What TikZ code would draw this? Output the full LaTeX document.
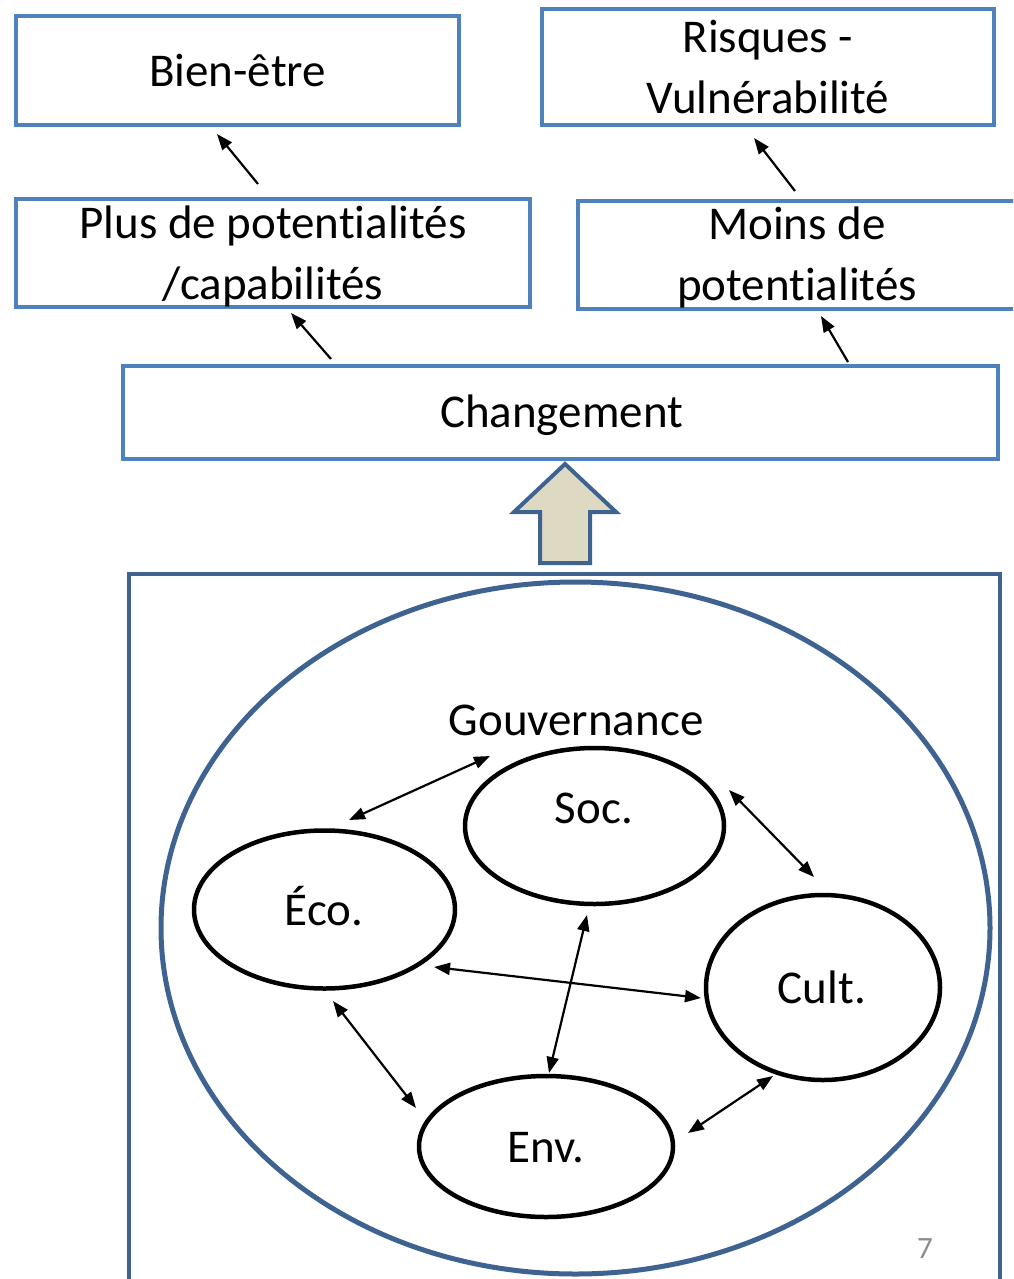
\documentclass[tikz,border=0pt]{standalone}
\usepackage{fontspec}
\setmainfont{Carlito}[Ligatures=NoCommon]
\usetikzlibrary{arrows.meta,shapes.geometric}
\definecolor{boxblue}{HTML}{4F81BD}
\definecolor{darkblue}{HTML}{3F6391}
\definecolor{khaki}{HTML}{DDD9C3}
\definecolor{pagegray}{HTML}{8C8C8C}
\begin{document}
\begin{tikzpicture}[x=1pt,y=-1pt,
  lbl/.style={font=\fontsize{47}{61}\selectfont, align=center, inner sep=0pt},
  box/.style={draw=boxblue, line width=4.5pt, rectangle, inner sep=0pt, font=\fontsize{47}{61}\selectfont, align=center},
  oval/.style={draw=black, line width=4.5pt, ellipse, inner sep=0pt},
  arr/.style={line width=2.2pt, -{Triangle[length=16pt,width=12pt]}},
  darr/.style={line width=2.2pt, {Triangle[length=16pt,width=12pt]}-{Triangle[length=16pt,width=12pt]}},
]
\clip (0,0) rectangle (1013,1279);
\fill[white] (0,0) rectangle (1013,1279);

% top boxes
\node[box, minimum width=443pt, minimum height=109pt] (bien) at (237.5,70.5) {Bien-être};
\node[box, minimum width=452pt, minimum height=116pt] (risq) at (768,67) {Risques -\\Vulnérabilité};
\node[box, minimum width=514pt, minimum height=108pt] (plus) at (273,253) {};
\node[lbl] (plust) at (273,256) {Plus de potentialités\\/capabilités};
\node[box, minimum width=438pt, minimum height=108pt] (moins) at (797,255) {};
\node[lbl] (moinst) at (797,257.5) {Moins de\\potentialités};
\node[box, minimum width=875pt, minimum height=93pt] (chg) at (560.5,412.5) {};
\node[lbl, anchor=base] (chgt) at (561.5,427) {Changement};

% arrows between boxes
\coordinate (p1) at (258,184); \coordinate (b1) at (217,134);
\coordinate (m1) at (795,191); \coordinate (r1) at (754,138);
\coordinate (c1) at (331,359); \coordinate (p2) at (291,313);
\coordinate (c2) at (848,362); \coordinate (m2) at (821,316);
\draw[arr] (p1) -- (b1);
\draw[arr] (m1) -- (r1);
\draw[arr] (c1) -- (p2);
\draw[arr] (c2) -- (m2);

% frame and big ellipse
\node[draw=darkblue, line width=4.5pt, rectangle, inner sep=0pt, minimum width=871pt, minimum height=740pt] (frame) at (564.5,944) {};
\node[draw=darkblue, line width=5pt, ellipse, inner sep=0pt, minimum width=829pt, minimum height=692pt] (gov) at (575.5,928) {};

% big block arrow
\draw[draw=darkblue, fill=khaki, line width=4pt, line join=miter]
  (565,464) -- (616,512) -- (590,512) -- (590,563) -- (540,563) -- (540,512) -- (514,512) -- cycle;

% Gouvernance label
\node[lbl, anchor=base] (govt) at (576,735) {Gouvernance};

% pillar ellipses
\node[oval, minimum width=259pt, minimum height=156pt] (soc) at (594.5,826) {};
\node[oval, minimum width=261pt, minimum height=158pt] (eco) at (324.5,909.5) {};
\node[oval, minimum width=234pt, minimum height=185pt] (cult) at (823,987.5) {};
\node[oval, minimum width=254pt, minimum height=141pt] (env) at (546,1146.5) {};

\node[lbl, anchor=base] (soct) at (594,823) {Soc.};
\node[lbl, anchor=base] (ecot) at (324,925) {Éco.};
\node[lbl, anchor=base] (cultt) at (822,1003) {Cult.};
\node[lbl, anchor=base] (envt) at (546,1162) {Env.};

% double arrows
\coordinate (es1) at (349,820); \coordinate (es2) at (490,756);
\coordinate (sc1) at (729,790); \coordinate (sc2) at (814,877);
\coordinate (ec1) at (434,967); \coordinate (ec2) at (701,998);
\coordinate (se1) at (587,915); \coordinate (se2) at (549,1073);
\coordinate (ee1) at (333,1001); \coordinate (ee2) at (416,1108);
\coordinate (ev1) at (688,1133); \coordinate (ev2) at (773,1076);
\draw[darr] (es1) -- (es2);
\draw[darr] (sc1) -- (sc2);
\draw[darr] (ec1) -- (ec2);
\draw[darr] (se1) -- (se2);
\draw[darr] (ee1) -- (ee2);
\draw[darr] (ev1) -- (ev2);

% page number
\node[inner sep=0pt, anchor=base, text=pagegray, font=\fontsize{31}{36}\selectfont] (pnum) at (925,1258) {7};
\end{tikzpicture}
\end{document}
